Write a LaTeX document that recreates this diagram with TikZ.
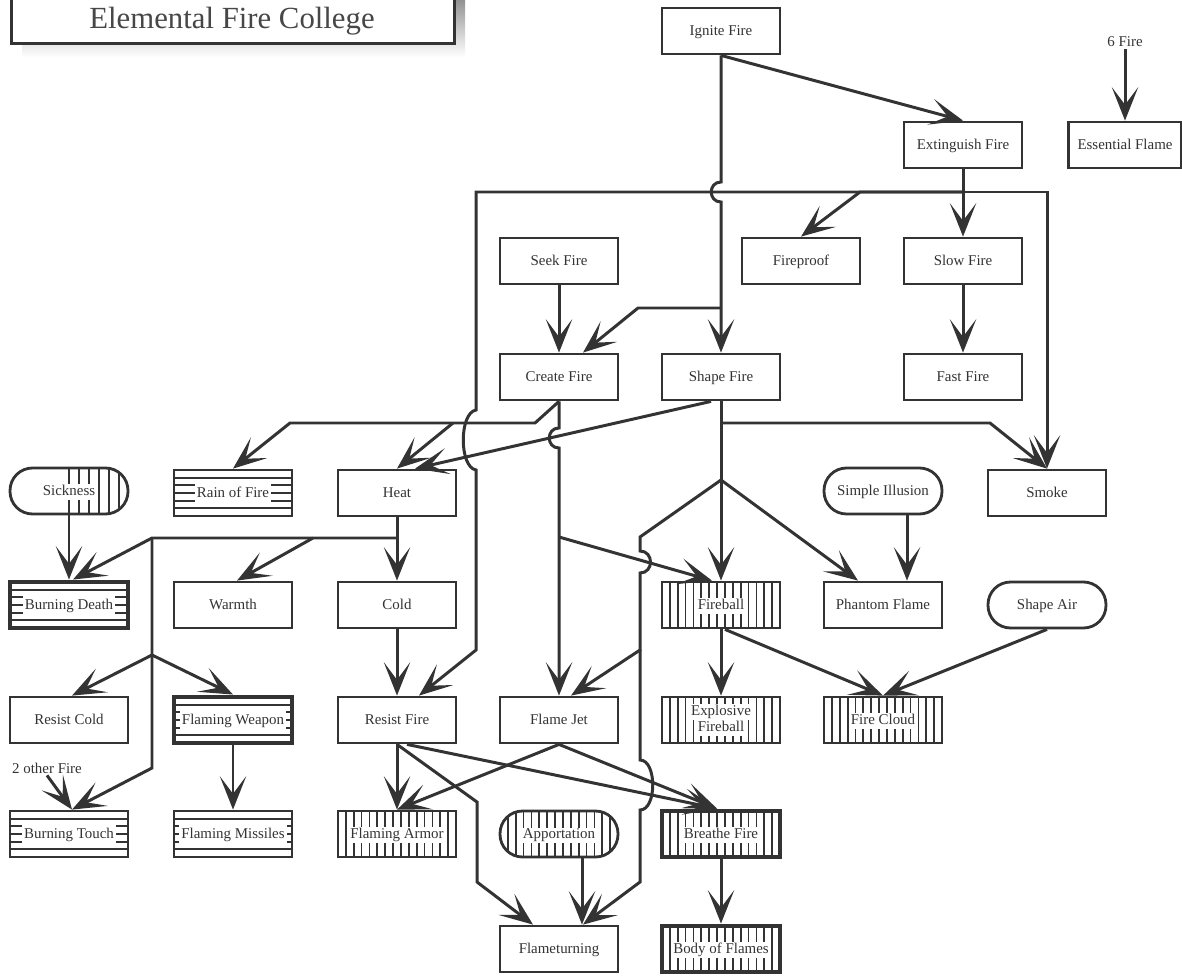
\documentclass[tikz,border=0pt]{standalone}
\usepackage{fontspec}
\setmainfont{Liberation Serif}
\usetikzlibrary{arrows.meta,calc}

\definecolor{ink}{HTML}{333333}
\definecolor{shade}{HTML}{555555}

% white band behind the label of a striped box
\newcommand{\htxt}[1]{{\setlength{\fboxsep}{1.2pt}\colorbox{white}{\rule[-2.4pt]{0pt}{9.4pt}#1}}}
\newcommand{\vtxt}[1]{{\setlength{\fboxsep}{0.6pt}\colorbox{white}{\rule[-2pt]{0pt}{7.6pt}#1}}}

\tikzset{
  frame/.style={draw=ink, line width=1.6pt, fill=white, minimum width=2.36cm, minimum height=0.92cm,
    inner sep=0pt, text=ink, font=\fontsize{8.5}{10}\selectfont, align=center},
  lbl/.style={text height=7.5pt, text depth=2pt},
  box/.style={frame, lbl},
  rbox/.style={box, rounded corners=0.45cm},
  heavy/.style={line width=2.8pt},
  note/.style={text=ink, inner sep=1pt, font=\fontsize{8.5}{10}\selectfont},
  hstripes/.style={path picture={
      \foreach \k in {1,...,5}
        \draw[ink, line width=1pt]
          ($(path picture bounding box.north west)!\k/6!(path picture bounding box.south west)$) --
          ($(path picture bounding box.north east)!\k/6!(path picture bounding box.south east)$);}},
  vstripes/.style={path picture={
      \foreach \k in {1,...,14}
        \draw[ink, line width=1pt]
          ($(path picture bounding box.north west)!\k/15!(path picture bounding box.north east)$) --
          ($(path picture bounding box.south west)!\k/15!(path picture bounding box.south east)$);}},
  halfstripes/.style={path picture={
      \foreach \k in {0,...,5}
        \draw[ink, line width=1pt]
          ($(path picture bounding box.north)+(\k*10,0)$) --
          ($(path picture bounding box.south)+(\k*10,0)$);}},
  link/.style={draw=ink, line width=1.7pt},
  >={Stealth[length=19pt,width=15pt,inset=10pt]},
}

\begin{document}
\begin{tikzpicture}[x=0.02cm, y=-0.02cm]
\useasboundingbox (0,0) rectangle (1182,976);

% title
\fill[shade] (22,-10) rectangle (465,57);
\node[draw=ink, line width=1.6pt, fill=white, minimum width=8.86cm, minimum height=1.04cm,
  inner sep=0pt, anchor=north west] (titlebox) at (10,-10) {};
\node[text=ink!90, font=\fontsize{17.5}{20}\selectfont] (title) at (232,21) {Elemental Fire College};

% spells
\node[box] (ignite) at (721,31) {Ignite Fire};
\node[box] (extinguish) at (963,145) {Extinguish Fire};
\node[box, minimum width=2.26cm] (essential) at (1125,145) {Essential Flame};
\node[note] (sixfire) at (1125,42) {6 Fire};
\node[box] (seek) at (559,261) {Seek Fire};
\node[box] (fireproof) at (801,261) {Fireproof};
\node[box] (slow) at (963,261) {Slow Fire};
\node[box] (create) at (559,377) {Create Fire};
\node[box] (shape) at (721,377) {Shape Fire};
\node[box] (fast) at (963,377) {Fast Fire};

\node[box, rounded corners=0.45cm, halfstripes] (sickness) at (69,491) {\vtxt{Sickness}};
\node[box, hstripes] (rain) at (233,493) {\htxt{Rain of Fire}};
\node[box] (heat) at (397,493) {Heat};
\node[rbox] (simple) at (883,491) {Simple Illusion};
\node[box] (smoke) at (1047,493) {Smoke};

\node[box, hstripes, heavy] (bdeath) at (69,605) {\htxt{Burning Death}};
\node[box] (warmth) at (233,605) {Warmth};
\node[box] (cold) at (397,605) {Cold};
\node[box, vstripes] (fireball) at (721,605) {\vtxt{Fireball}};
\node[box] (phantom) at (883,605) {Phantom Flame};
\node[rbox] (shapeair) at (1047,605) {Shape Air};

\node[box] (rcold) at (69,720) {Resist Cold};
\node[box, hstripes, heavy] (fweapon) at (233,720) {\htxt{Flaming Weapon}};
\node[box] (rfire) at (397,720) {Resist Fire};
\node[box] (flamejet) at (559,720) {Flame Jet};
\node[frame, vstripes] (explosive) at (721,720) {\vtxt{Explosive}\\[-1pt]\vtxt{Fireball}};
\node[box, vstripes] (firecloud) at (883,720) {\vtxt{Fire Cloud}};

\node[note] (twofire) at (47,768) {2 other Fire};
\node[box, hstripes] (btouch) at (69,834) {\htxt{Burning Touch}};
\node[box, hstripes] (fmissiles) at (233,834) {\htxt{Flaming Missiles}};
\node[box, vstripes] (farmor) at (397,834) {\vtxt{Flaming Armor}};
\node[box, rounded corners=0.45cm, vstripes] (apport) at (559,834) {\vtxt{Apportation}};
\node[box, vstripes, heavy] (breathe) at (721,834) {\vtxt{Breathe Fire}};

\node[box] (flameturn) at (559,949) {Flameturning};
\node[box, vstripes, heavy] (body) at (721,949) {\vtxt{Body of Flames}};

% junctions
\coordinate (ej) at (963,192);
\coordinate (cj) at (535,423);
\coordinate (sj) at (721,480);
\coordinate (hj) at (397,538);
\coordinate (lj) at (152,538);

% Ignite Fire
\draw[link,->] (ignite.south) -- (extinguish.north);
\draw[link,->] (ignite.south) -- (721,182) .. controls (708,182) and (708,202) .. (721,202) -- (shape.north);
\draw[link,->] (721,308) -- (638,308) -- ($(create.north)+(24,0)$);

% Extinguish Fire
\draw[link,->] (extinguish.south) -- (slow.north);
\draw[link,->] (ej) -- (860,192) -- (fireproof.north);
\draw[link,->] (ej) -- (1047,192) -- (smoke.north);
\draw[link,->] (ej) -- (476,192) -- (476,410) .. controls (459,413) and (459,467) .. (476,470)
  -- (476,650) -- ($(rfire.north)+(22,0)$);

\draw[link,->] (seek.south) -- (create.north);
\draw[link,->] (slow.south) -- (fast.north);

% Create Fire
\draw[link,->] (create.south) -- (cj) -- (290,423) -- (rain.north);
\draw[link,->] (453,423) -- (heat.north);
\draw[link,->] (create.south) -- (559,428) .. controls (546,428) and (546,448) .. (559,448) -- (flamejet.north);
\draw[link,->] (559,537) -- ($(fireball.north)+(-9,0)$);

% Shape Fire
\draw[link,->] ($(shape.south)+(-10,0)$) -- ($(heat.north)+(18,0)$);
\draw[link,->] (shape.south) -- (fireball.north);
\draw[link,->] (721,423) -- (990,423) -- (smoke.north);
\draw[link,->] (sj) -- ($(phantom.north)+(-25,0)$);
\draw[link,->] (sj) -- (640,537) -- (640,551) .. controls (654,551) and (654,573) .. (640,573)
  -- (640,650) -- ($(flamejet.north)+(12,0)$);
\draw[link,->] (640,650) -- (640,760) .. controls (657,760) and (657,810) .. (640,810)
  -- (640,882) -- ($(flameturn.north)+(24,0)$);

% Heat
\draw[link,->] (heat.south) -- (cold.north);
\draw[link,->] (hj) -- (lj) -- ($(bdeath.north)+(4,0)$);
\draw[link,->] (313,538) -- ($(warmth.north)+(4,0)$);
\draw[link,->] (lj) -- (152,768) -- ($(btouch.north)+(3,0)$);
\draw[link,->] (152,655) -- ($(rcold.north)+(3,0)$);
\draw[link,->] (152,655) -- (fweapon.north);

\draw[link,->] (sickness.south) -- (bdeath.north);
\draw[link,->] (twofire.south) -- ($(btouch.north)+(3,0)$);
\draw[link,->] (fweapon.south) -- (fmissiles.north);
\draw[link,->] (cold.south) -- (rfire.north);

% Resist Fire and Flame Jet
\draw[link,->] (rfire.south) -- (farmor.north);
\draw[link,->] (rfire.south) -- (477,802) -- (477,882) -- ($(flameturn.north)+(-26,0)$);
\draw[link,->] ($(rfire.south)+(10,0)$) -- ($(breathe.north)+(-4,0)$);
\draw[link,->] (flamejet.south) -- (farmor.north);
\draw[link,->] (flamejet.south) -- ($(breathe.north)+(-4,0)$);
\draw[link,->] ($(apport.south)+(23,0)$) -- ($(flameturn.north)+(23,0)$);
\draw[link,->] (breathe.south) -- (body.north);

% Fireball and the rest
\draw[link,->] (fireball.south) -- (explosive.north);
\draw[link,->] ($(fireball.south)+(4,0)$) -- (firecloud.north);
\draw[link,->] (shapeair.south) -- (firecloud.north);
\draw[link,->] ($(simple.south)+(24,0)$) -- ($(phantom.north)+(24,0)$);
\draw[link,->] (sixfire.south) -- (essential.north);
\end{tikzpicture}
\end{document}
